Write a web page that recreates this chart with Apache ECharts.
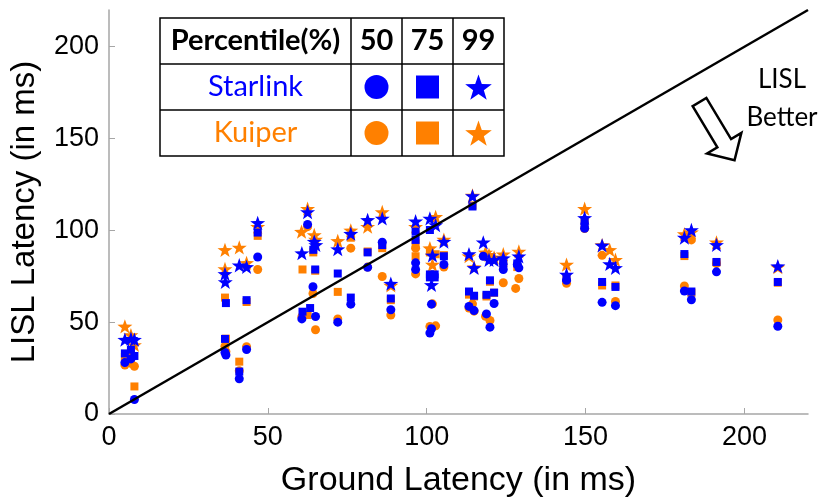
<!DOCTYPE html>
<html>
<head>
<meta charset="utf-8">
<script src="https://cdn.jsdelivr.net/npm/echarts@6/dist/echarts.min.js"></script>
<style>
html,body{margin:0;padding:0;background:#fff;}
#chart{width:827px;height:503px;}
</style>
</head>
<body>
<div id="chart"></div>
<script>
// ticks / labels
var xTicks = [0, 50, 100, 150, 200]
var yTicks = [0, 50, 100, 150, 200]
var percentiles = ['50', '75', '99']
var constellations = ['Starlink', 'Kuiper']
var diagLine = [[0, 0], [220, 220]] // y = x

// [ground latency, LISL latency] in ms
var starlinkP50 = [[5.0,28],[6.9,30],[8.0,7.9],[36.5,33.5],[36.8,32.1],[41.0,19.2],[43.3,35.1],[46.8,85.5],
	[60.7,51.8],[62.5,103.2],[64.2,69.3],[65,53.1],[72.0,50],[76.1,59.8],[81.4,79.9],[86,93.5],[88.7,56.8],
	[96.5,82.3],[96.5,78.7],[101.5,59.8],[101.5,46.4],[101,44.1],[105.4,81.4],[113.3,58.6],[114.9,56.3],
	[117.8,85.9],[121.2,60.2],[118.8,54.5],[119.9,47.3],[124.1,78.7],[128.5,81.4],[129,79.6],
	[144,72.8],[149.7,101.1],[155.2,60.8],[159.4,59],[181.1,67],[183.3,62.2],[191.2,77.4],[210.5,47.8]]
var starlinkP75 = [[5.0,33],[6.9,35],[8.0,31.6],[36.8,60.4],[36.5,40.9],[41.0,23.1],[43.3,62],[46.8,98.8],
	[60.9,55.7],[63.3,57.7],[64.9,78.7],[64.3,89.4],[72.0,76.5],[76.1,63.4],[81.4,88],[86,92],[88.7,62.9],
	[96.5,99.3],[96.5,94.8],[101,100.2],[101,76],[102.5,76],[101,74.4],[102.5,74.4],[105.4,85.9],
	[114.4,113],[113.3,66.7],[114.9,64.4],[119.9,72.8],[118.8,64.9],[121.2,66.1],[124.1,82],[128.5,82],
	[144,74],[149.7,104],[155.2,71.9],[159.4,69.2],[181.1,87.1],[183.3,66.7],[191.2,82.8],[210.5,71.9]]
var starlinkP99 = [[5.0,40.5],[6.9,41],[8.0,40.5],[36.5,76.3],[36.6,71.9],[41.0,81],[43.3,80.1],[46.8,104.1],
	[60.7,87.6],[62.5,110],[64.6,93.9],[65.1,92.1],[72.0,89.8],[76.1,98.2],[81.4,105.7],[86.0,106.5],[88.7,71],
	[96.5,105],[101,106.5],[102.8,102.9],[101.8,86.4],[101.5,70.3],[105.4,93.9],[114.4,118.7],[113.3,87.1],[114.9,79.6],
	[117.8,93.5],[119.6,84],[121.2,84],[124.1,84.9],[129,85.9],[144,76],[149.7,106.8],[155.2,91.8],[157.6,81.7],[159.4,79.6],
	[181.1,96.1],[183.3,100.2],[191.2,92.1],[210.5,80.5]]

var kuiperP50 = [[5.0,26.7],[6.9,27.6],[8.0,26],[36.5,36.9],[36.8,34],[41.0,23.5],[43.3,36.6],[46.8,78.7],
	[60.7,53],[62.5,102],[64.2,65.6],[65,45.9],[72.0,51.8],[76.1,90.3],[81.4,80],[86,74.9],[88.7,53.9],
	[96.5,76.3],[96.5,90.3],[101,47.7],[102.8,48],[101.8,60],[105.4,80],[113.3,57.7],[114.9,56],[114.4,60],
	[118.5,53.2],[119.9,50.9],[124.1,71.5],[128,68.4],[129,73.8],[118,86],[144,71.2],[149.7,101],[155.2,86.4],[159.4,61.3],
	[181.1,69.7],[183.3,94.8],[191.2,82],[210.5,51.2]]
var kuiperP75 = [[5.0,31],[6.9,33],[8.0,15],[36.5,63.4],[36.8,41],[41.0,28.5],[43.3,61],[46.8,97],
	[60.9,78.7],[62.5,53.9],[64.9,78],[64.3,88],[72.0,66.5],[76.1,96],[81.4,88.5],[86,90.3],[88.7,62],
	[96.5,85.9],[96.5,93],[101,88],[102.8,87],[101.5,76],[105.4,86.5],[114.4,113.6],[113.3,65],[114.9,64],
	[119.9,72],[118.8,64],[121.2,66],[124.1,82],[128.5,80],[144,74],[149.7,105],[155.2,70],[159.4,70],
	[181.1,86],[183.3,66],[191.2,82.5],[210.5,71.5]]
var kuiperP99 = [[5.0,47.7],[6.9,43],[8.0,37.6],[36.5,89.4],[36.5,79],[41.0,90.7],[43.3,82.3],[46.8,102],
	[60.6,99.3],[62.5,111.8],[64.6,97.5],[65,95],[72.0,94.3],[76.1,100],[81.4,102],[86,110],[88.7,70],
	[96.5,102],[101,90.3],[102.8,107.4],[101.8,81.4],[105.4,95],[114.4,119],[113.3,86],[114.9,80],
	[118.5,88],[119.6,86.7],[121.2,85.3],[124.1,87],[129,88.5],[144,81.4],[149.7,111.8],[155.2,92],[157.6,89.4],[159.4,84],
	[181.1,98],[183.3,99],[191.2,93.5],[210.5,80]]

var BLUE = '#0000ff', ORANGE = '#ff8000'

function starPoints(cx, cy, R){ // 5-point star
	var pts = []
	for(var i = 0; i < 10; i++){
		var a = -Math.PI / 2 + i * Math.PI / 5
		var r = i % 2 === 0 ? R : R * 0.4
		pts.push([cx + Math.cos(a) * r, cy + Math.sin(a) * r])
	}
	return pts
}
var starSymbol = 'path://M' + starPoints(0, 0, 10).map(function(p){ return p[0].toFixed(2) + ' ' + p[1].toFixed(2) }).join(' L') + ' Z'

function scatter(name, data, color, symbol, size){
	return {
		name: name, type: 'scatter', data: data,
		symbol: symbol, symbolSize: size, symbolKeepAspect: true,
		itemStyle: { color: color, opacity: 1 },
		animation: false
	}
}

// legend table (drawn as graphic)
var tbl = { colX: [160, 351, 402, 453, 504], rowY: [18, 64, 110, 156] }
function cellCx(c){ return (tbl.colX[c] + tbl.colX[c + 1]) / 2 }
function cellCy(r){ return (tbl.rowY[r] + tbl.rowY[r + 1]) / 2 }

var graphics = []
graphics.push({ type: 'rect', shape: { x: 160, y: 18, width: 344, height: 138 }, style: { fill: '#fff', stroke: '#000', lineWidth: 1.5 }, z: 100 })
tbl.colX.slice(1, 4).forEach(function(x){
	graphics.push({ type: 'line', shape: { x1: x, y1: 18, x2: x, y2: 156 }, style: { stroke: '#000', lineWidth: 1.5 }, z: 101 })
})
tbl.rowY.slice(1, 3).forEach(function(y){
	graphics.push({ type: 'line', shape: { x1: 160, y1: y, x2: 504, y2: y }, style: { stroke: '#000', lineWidth: 1.5 }, z: 101 })
})
function txt(t, x, y, color, weight, size){
	return { type: 'text', x: x, y: y, z: 102,
		style: { text: t, fill: color, fontFamily: 'Lato', fontWeight: weight, fontSize: size, align: 'center', verticalAlign: 'middle' } }
}
graphics.push(txt('Percentile(%)', cellCx(0), cellCy(0), '#000', 'bold', 29))
percentiles.forEach(function(p, i){ graphics.push(txt(p, cellCx(i + 1), cellCy(0), '#000', 'bold', 29)) })
constellations.forEach(function(c, r){
	var col = r === 0 ? BLUE : ORANGE
	var cy = cellCy(r + 1)
	graphics.push(txt(c, cellCx(0), cy, col, 'normal', 29))
	graphics.push({ type: 'circle', shape: { cx: cellCx(1), cy: cy, r: 12 }, style: { fill: col }, z: 102 })
	graphics.push({ type: 'rect', shape: { x: cellCx(2) - 11.5, y: cy - 11.5, width: 23, height: 23 }, style: { fill: col }, z: 102 })
	graphics.push({ type: 'polygon', shape: { points: starPoints(cellCx(3), cy + 1.5, 14) }, style: { fill: col }, z: 102 })
})

// "LISL Better" hollow arrow
;(function(){
	var tail = [699.5, 102], ang = 59 * Math.PI / 180, L = 68, H = 20, w = 8, hw = 20
	var u = [Math.cos(ang), Math.sin(ang)], v = [-u[1], u[0]]
	function P(a, b){ return [tail[0] + u[0] * a + v[0] * b, tail[1] + u[1] * a + v[1] * b] }
	graphics.push({ type: 'polygon', z: 100,
		shape: { points: [P(0, w), P(L - H, w), P(L - H, hw), P(L, 0), P(L - H, -hw), P(L - H, -w), P(0, -w)] },
		style: { fill: '#fff', stroke: '#000', lineWidth: 2.5 } })
})()
graphics.push({ type: 'text', x: 782, y: 80, z: 100, style: { text: 'LISL', fill: '#000', fontFamily: 'Lato', fontSize: 26, align: 'center', verticalAlign: 'middle' } })
graphics.push({ type: 'text', x: 782, y: 118, z: 100, style: { text: 'Better', fill: '#000', fontFamily: 'Lato', fontSize: 26, align: 'center', verticalAlign: 'middle' } })

var axisCommon = {
	min: 0, max: 220,
	nameLocation: 'middle',
	nameTextStyle: { fontFamily: 'Liberation Sans', fontSize: 33, color: '#000' },
	axisLine: { lineStyle: { color: '#a6a6a6', width: 1.5 } },
	axisTick: { inside: true, length: 6, lineStyle: { color: '#a6a6a6' } },
	axisLabel: { fontFamily: 'Liberation Sans', fontSize: 27, color: '#000' },
	splitLine: { show: false }
}

var option = {
	backgroundColor: '#fff',
	animation: false,
	grid: { left: 108, right: 19, top: 10, bottom: 85 },
	xAxis: Object.assign({}, axisCommon, {
		type: 'value', name: 'Ground Latency (in ms)', nameGap: 50,
		nameTextStyle: { fontFamily: 'Liberation Sans', fontSize: 34, color: '#000' },
		axisTick: Object.assign({}, axisCommon.axisTick, { customValues: xTicks }),
		axisLabel: Object.assign({}, axisCommon.axisLabel, { customValues: xTicks, margin: 10 })
	}),
	yAxis: Object.assign({}, axisCommon, {
		type: 'value', name: 'LISL Latency (in ms)', nameGap: 68,
		axisTick: Object.assign({}, axisCommon.axisTick, { customValues: yTicks }),
		axisLabel: Object.assign({}, axisCommon.axisLabel, { customValues: yTicks, margin: 10 })
	}),
	series: [
		scatter('Kuiper 50', kuiperP50, ORANGE, 'circle', 9),
		scatter('Kuiper 75', kuiperP75, ORANGE, 'rect', 8),
		scatter('Kuiper 99', kuiperP99, ORANGE, starSymbol, 15),
		scatter('Starlink 50', starlinkP50, BLUE, 'circle', 9),
		scatter('Starlink 75', starlinkP75, BLUE, 'rect', 8),
		scatter('Starlink 99', starlinkP99, BLUE, starSymbol, 15),
		{
			name: 'y=x', type: 'line', data: diagLine, showSymbol: false, z: 5,
			lineStyle: { color: '#000', width: 2.5 }, silent: true
		}
	],
	graphic: graphics
}

var myChart = echarts.init(document.getElementById('chart'))
myChart.setOption(option)
</script>
</body>
</html>
